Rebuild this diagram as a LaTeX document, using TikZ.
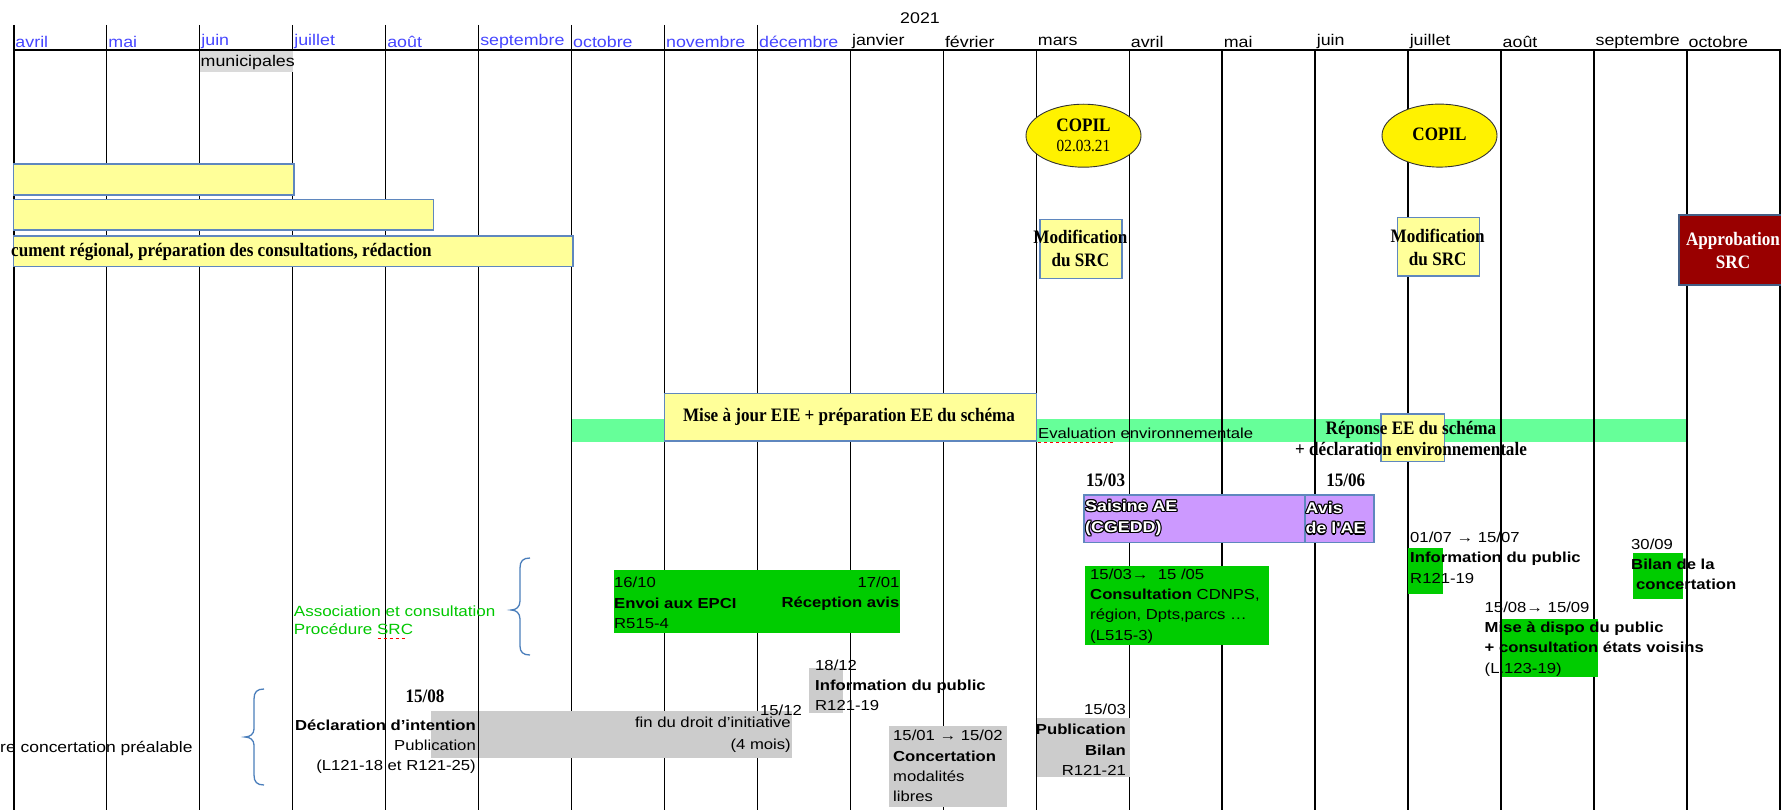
\documentclass[tikz,border=0pt]{standalone}
\usepackage{fontspec}
\setmainfont{Liberation Sans}
\newfontfamily\lsans[FakeStretch=1.15]{Liberation Sans}
\newfontfamily\lserif[FakeStretch=0.9]{Liberation Serif}
\usetikzlibrary{shapes.geometric}
\definecolor{monthblue}{RGB}{70,70,255}
\definecolor{ybox}{RGB}{255,255,153}
\definecolor{yborder}{RGB}{95,135,190}
\definecolor{bandgreen}{RGB}{102,255,153}
\definecolor{gboxc}{RGB}{0,204,0}
\definecolor{grayboxc}{RGB}{204,204,204}
\definecolor{munigray}{RGB}{218,218,218}
\definecolor{purp}{RGB}{204,153,255}
\definecolor{darkredc}{RGB}{153,0,0}
\definecolor{bracecol}{RGB}{74,126,187}
\definecolor{assocgreen}{RGB}{0,200,0}
\newcommand\msans{\lsans\fontsize{15.5}{18}\selectfont}
\newcommand\tsans{\lsans\fontsize{14.5}{20.3}\selectfont}
\newcommand\bserif{\lserif\bfseries\fontsize{19}{23}\selectfont}
\newcommand\rserif{\lserif\fontsize{17}{20}\selectfont}
\newcommand\olt[1]{\leavevmode
 \rlap{\color{black}\kern-1.2pt#1}\rlap{\color{black}\kern1.2pt#1}%
 \rlap{\color{black}\raisebox{1.2pt}{#1}}\rlap{\color{black}\raisebox{-1.2pt}{#1}}%
 \rlap{\color{black}\kern-0.85pt\raisebox{0.85pt}{#1}}\rlap{\color{black}\kern0.85pt\raisebox{0.85pt}{#1}}%
 \rlap{\color{black}\kern-0.85pt\raisebox{-0.85pt}{#1}}\rlap{\color{black}\kern0.85pt\raisebox{-0.85pt}{#1}}%
 {\color{white}#1}}
\tikzset{
 gridline/.style={line width=1.4pt, black},
 headline/.style={line width=1.8pt, black},
 mlabel/.style={anchor=west, inner sep=0pt, font=\msans},
 txt/.style={inner sep=0pt, font=\tsans, align=left},
 sbc/.style={inner sep=0pt, font=\bserif, align=center},
 ybar/.style={fill=ybox, draw=yborder, line width=1.3pt},
 gfill/.style={fill=gboxc},
 grfill/.style={fill=grayboxc},
 purpbox/.style={fill=purp, draw=yborder, line width=1.2pt},
 redbox/.style={fill=darkredc, draw=yborder!70!black, line width=1.2pt},
 copil/.style={ellipse, draw=black!80, line width=0.9pt, fill=yellow, minimum width=115pt, minimum height=63pt, inner sep=0pt},
 bracestyle/.style={draw=bracecol, line width=1.3pt},
 spell/.style={draw=red, dashed, line width=1pt, dash pattern=on 3pt off 3pt},
 outl/.style={inner sep=0pt, font=\lsans\bfseries\fontsize{15.5}{20.6}\selectfont, align=left, anchor=west}
}
\begin{document}
\begin{tikzpicture}[x=1pt,y=-1pt]
\clip (0,0) rectangle (1781,810);
\fill[white] (0,0) rectangle (1781,810);
% green band
\fill[bandgreen] (571.5,419.3) rectangle (1686.9,441.7);
% grid
\foreach \k in {0,...,19} { \draw[gridline] ({13.8+92.95*\k},50) -- ({13.8+92.95*\k},812); }
\foreach \k in {0,...,8} { \draw[gridline] ({13.8+92.95*\k},25) -- ({13.8+92.95*\k},50); }
\draw[headline] (13.8,50) -- (1781,50);
% months
\foreach \k/\m/\c in {0/avril/monthblue,1/mai/monthblue,2/juin/monthblue,3/juillet/monthblue,4/août/monthblue,5/septembre/monthblue,6/octobre/monthblue,7/novembre/monthblue,8/décembre/monthblue,9/janvier/black,10/février/black,11/mars/black,12/avril/black,13/mai/black,14/juin/black,15/juillet/black,16/août/black,17/septembre/black,18/octobre/black}
  { \node[mlabel, text=\c] (m\k) at ({15.3+92.95*\k},41.5) {\m}; }
\node[mlabel, anchor=center] (y2021) at (920,18) {2021};
% municipales
\fill[munigray] (199.7,50.9) rectangle (292.6,72);
\node[mlabel] (muni) at (200.5,62.5) {municipales};
% yellow bars
\draw[ybar] (13.8,164) rectangle (294,195);
\draw[ybar] (13.8,199.3) rectangle (433.6,230);
\draw[ybar] (13.8,236) rectangle (573,266.7);
\node[sbc, anchor=west] (doc) at (11,251.5) {cument régional, préparation des consultations, rédaction};
% COPIL
\node[copil] (copil1) at (1083.5,135.7) {};
\node[sbc] (copil1t) at (1083.5,125) {COPIL};
\node[inner sep=0pt, font=\rserif] (copil1d) at (1083.5,146) {02.03.21};
\node[copil] (copil2) at (1439.5,135.6) {};
\node[sbc] (copil2t) at (1439.5,134) {COPIL};
% Modification
\draw[ybar] (1040,219.3) rectangle (1122,278.3);
\node[sbc] (mod1) at (1080.4,248.3) {Modification\\du SRC};
\draw[ybar] (1397.4,217.3) rectangle (1479.6,276);
\node[sbc] (mod2) at (1437.7,247.2) {Modification\\du SRC};
% Approbation
\draw[redbox] (1679,215) rectangle (1790,285);
\node[sbc, text=white] (appr) at (1733,250.8) {Approbation\\SRC};
% Mise a jour
\draw[ybar] (664.45,393.3) rectangle (1036.25,441);
\node[sbc] (maj) at (849,416.7) {Mise à jour EIE + préparation EE du schéma};
\node[txt, anchor=west] (eval) at (1038,433) {Evaluation environnementale};
\draw[spell] ([yshift=-4pt]eval.base west) -- ++(77,0);
% Reponse
\draw[ybar] (1381,414) rectangle (1444.7,461.7);
\node[sbc, font=\lserif\bfseries\fontsize{19}{21}\selectfont] (rep) at (1411,438.8) {Réponse EE du schéma\\+ déclaration environnementale};
% Saisine
\node[sbc] (d1503a) at (1105.6,480) {15/03};
\node[sbc] (d1506) at (1345.8,480) {15/06};
\draw[purpbox] (1084,495) rectangle (1374,542.7);
\draw[purpbox] (1305,495) rectangle (1374,542.7);
\node[outl] (sais) at (1085,518) {\olt{Saisine AE}\\\olt{(CGEDD)}};
\node[outl] (avis) at (1305.5,518) {\olt{Avis}\\\olt{de l'AE}};
% Envoi EPCI
\fill[gfill] (613.8,570) rectangle (899.5,632.7);
\node[txt, anchor=west] (envoi) at (614,603) {16/10\\\textbf{Envoi aux EPCI}\\R515-4};
\node[txt, anchor=east, align=right] (recep) at (899.5,593.5) {17/01\\\textbf{Réception avis}};
% Consultation
\fill[gfill] (1085,566) rectangle (1269,645);
\node[txt, anchor=west] (consult) at (1090,605.8) {15/03→ \ 15 /05\\\textbf{Consultation} CDNPS,\\région, Dpts,parcs …\\(L515-3)};
% July info
\fill[gfill] (1408,548) rectangle (1443,594);
\node[txt, anchor=west] (infojul) at (1410,557.8) {01/07 → 15/07\\\textbf{Information du public}\\R121-19};
% Bilan
\fill[gfill] (1632.8,552.7) rectangle (1683,599);
\node[txt, anchor=west] (bilan) at (1631,564.3) {30/09\\\textbf{Bilan de la}\\\hspace*{5pt}\textbf{concertation}};
% Mise a dispo
\fill[gfill] (1502,619) rectangle (1597.8,676.7);
\node[txt, anchor=west] (dispo) at (1484.5,638.8) {15/08→ 15/09\\\textbf{Mise à dispo du public}\\\textbf{+ consultation états voisins}\\(L.123-19)};
% Association
\node[txt, anchor=west, text=assocgreen, font=\lsans\fontsize{14.8}{17.6}\selectfont] (assoc) at (293.7,620.5) {Association et consultation\\Procédure SRC};
\draw[spell] ([yshift=-4pt]assoc.base west) ++(84,0) -- ++(27,0);
\draw[bracestyle] (530,558) .. controls (523,558) and (520,561) .. (520,568) -- (520,601) .. controls (520,607) and (516,610) .. (511,610) .. controls (516,610) and (520,613) .. (520,619) -- (520,646) .. controls (520,652) and (523,655) .. (530,655);
% 18/12
\fill[grfill] (809.3,668.3) rectangle (843.3,713.3);
\node[txt, anchor=west] (info1812) at (815,685.5) {18/12\\\textbf{Information du public}\\R121-19};
% Concertation
\fill[grfill] (889.3,726) rectangle (1006.7,806.7);
\node[txt, anchor=west] (concert) at (893,766.2) {15/01 → 15/02\\\textbf{Concertation}\\modalités\\libres};
% Publication
\fill[grfill] (1037.3,718.3) rectangle (1130,776.7);
\node[txt, anchor=east, align=right] (pub) at (1126,739.7) {15/03\\\textbf{Publication}\\\textbf{Bilan}\\R121-21};
% Declaration
\fill[grfill] (430.5,710.7) rectangle (792,758.3);
\draw[gridline] (478.55,710.7) -- (478.55,758.3);
\node[sbc] (d1508) at (425,696) {15/08};
\node[txt, anchor=east, align=right] (decl) at (476,746.7) {\textbf{Déclaration d’intention}\\Publication\\(L121-18 et R121-25)};
\node[txt, anchor=east, align=right, font=\lsans\fontsize{14.5}{22.7}\selectfont] (fin) at (791,734.7) {fin du droit d’initiative\\(4 mois)};
\node[txt] (d1512) at (781,710) {15/12};
% left
\node[txt, anchor=west, font=\lsans\fontsize{15.2}{20}\selectfont] (prealable) at (0,748.3) {re concertation préalable};
\draw[bracestyle] (264,689) .. controls (257,689) and (254,692) .. (254,699) -- (254,729) .. controls (254,734) and (250,737) .. (245,737) .. controls (250,737) and (254,740) .. (254,745) -- (254,775) .. controls (254,782) and (257,785) .. (264,785);
\end{tikzpicture}
\end{document}
